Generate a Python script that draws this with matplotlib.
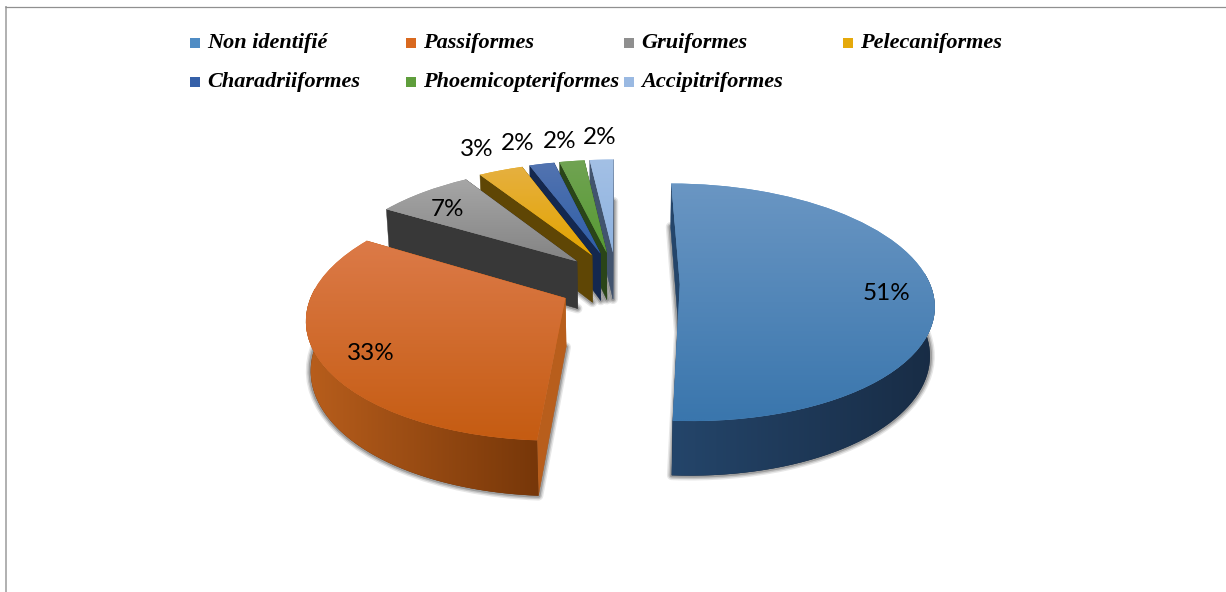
#!/usr/bin/env python3

import numpy as np
import matplotlib
matplotlib.use("Agg")
import matplotlib.pyplot as plt
from matplotlib.patches import Polygon, Rectangle, Wedge
from matplotlib.transforms import Transform

names = ["Non identifié", "Passiformes", "Gruiformes", "Pelecaniformes",
         "Charadriiformes", "Phoemicopteriformes", "Accipitriformes"]
values = [51, 32.6, 7.4, 3.4, 1.9, 1.9, 1.8]
labels = ["51%", "33%", "7%", "3%", "2%", "2%", "2%"]

colors = ["#4f8cc4", "#d9691f", "#8f8f8f", "#e5a90b", "#3560a8", "#5f9e3c", "#9ab9e2"]
top_light = ["#6a96c3", "#dc7a48", "#a6a6a6", "#e6b040", "#5273b0", "#70a352", "#a3c0e5"]
top_dark = ["#3a76ad", "#c55c12", "#848484", "#e3a400", "#2f5fa8", "#579a33", "#8fb3e0"]
side_left = ["#24456a", "#b85e1c", "#383838", "#5f4605", "#14284f", "#2a4518", "#42546e"]
side_right = ["#182c45", "#773709", "#383838", "#5f4605", "#14284f", "#2a4518", "#42546e"]

label_xy = [(887, 293), (371, 353), (448, 209), (477, 149), (518, 143), (560, 141), (600, 138)]
legend_xy = [(191, 43), (407, 43), (625, 43), (844, 43), (191, 82), (407, 82), (625, 82)]


class Tilt(Transform):
    # pie plane -> pixels, with a bit of perspective; z=1 is the bottom face
    input_dims = 2
    output_dims = 2

    def __init__(self, z=0):
        super().__init__()
        self.z = z

    def transform_non_affine(self, xy):
        xy = np.asarray(xy, dtype=float)
        u, v = xy[:, 0], xy[:, 1]
        w = 1 + 0.156 * v + 0.015 * self.z
        return np.column_stack((616 + 255 * u / w, 283 - (118 * v - 49 * self.z) / w))


def rgb(c):
    return np.array(matplotlib.colors.to_rgb(c))


def gradient(c0, c1, horizontal=False):
    grad = np.linspace(0, 1, 64)
    grad = grad[None, :, None] if horizontal else grad[:, None, None]
    return rgb(c0)[None, None, :] * (1 - grad) + rgb(c1)[None, None, :] * grad


def fill_gradient(ax, pts, img, clip, z):
    im = ax.imshow(img, extent=(pts[:, 0].min(), pts[:, 0].max(), pts[:, 1].max(), pts[:, 1].min()),
                   aspect="auto", origin="upper", zorder=z, interpolation="bilinear")
    im.set_clip_path(clip)


fig = plt.figure(figsize=(12.26, 5.92), dpi=100, facecolor="white")
ax = fig.add_axes([0, 0, 1, 1])

wedges, _ = ax.pie(values, colors=colors, startangle=90, counterclock=False,
                   explode=[0.25, 0.22, 0.22, 0.22, 0.22, 0.22, 0.22])
ax.set_aspect("auto")
ax.set_xlim(0, 1226)
ax.set_ylim(592, 0)
ax.set_autoscale_on(False)
ax.axis("off")

top = Tilt(0)
bottom = Tilt(1)
r = 0.98

for i in range(len(values) - 1, -1, -1):
    w = wedges[i]
    cx, cy = w.center
    cy = cy * 1.23
    w.set_center((cx, cy))
    w.set_radius(r)
    w.set_linewidth(0)
    w.set_transform(top + ax.transData)
    base = (7 - i) * 10
    w.set_zorder(base + 5)

    # soft shadow round the bottom face
    for lw, a in [(7, 0.14), (5, 0.22), (3, 0.35)]:
        s = Wedge((cx, cy), r, w.theta1, w.theta2, facecolor="#555555", edgecolor="#555555",
                  linewidth=lw, alpha=a, joinstyle="round", transform=bottom + ax.transData, zorder=base)
        ax.add_patch(s)

    th = np.radians(np.linspace(w.theta1, w.theta2, 90))
    rim = np.column_stack((cx + r * np.cos(th), cy + r * np.sin(th)))
    rim_top = top.transform(rim)
    rim_bot = bottom.transform(rim)
    apex_top = top.transform(np.array([[cx, cy]]))[0]
    apex_bot = bottom.transform(np.array([[cx, cy]]))[0]

    # flat ends of the slice
    for k in (0, -1):
        ax.add_patch(Polygon([apex_top, rim_top[k], rim_bot[k], apex_bot], closed=True,
                             facecolor=side_left[i], edgecolor=side_left[i], linewidth=0.3,
                             zorder=base + 1))

    # curved side, darker to the right
    front = np.sin(th) < 0.1
    if front.any():
        band = np.vstack((rim_top[front], rim_bot[front][::-1]))
        poly = Polygon(band, closed=True, facecolor=side_right[i], edgecolor="none", zorder=base + 2)
        ax.add_patch(poly)
        fill_gradient(ax, band, gradient(side_left[i], side_right[i], horizontal=True), poly, base + 3)

    # top face with vertical gradient
    pts = np.vstack((rim_top, apex_top))
    fill_gradient(ax, pts, gradient(top_light[i], top_dark[i]), w, base + 6)

for lab, (x, y) in zip(labels, label_xy):
    ax.text(x, y, lab, family="Lato", fontsize=17.5, color="black", ha="center", va="center", zorder=200)

for name, c, (x, y) in zip(names, colors, legend_xy):
    ax.add_patch(Rectangle((x - 1, y - 5), 10, 10, facecolor=c, edgecolor="none", zorder=200))
    ax.text(x + 16, y, name, family="Liberation Serif", style="italic", weight="bold",
            fontsize=16, color="black", ha="left", va="center", zorder=200)

# chart frame, only left and top are inside the crop
ax.plot([6, 6], [6, 592], color="#b0b0b0", linewidth=1.4, zorder=1, solid_capstyle="butt")
ax.plot([5, 1226], [6.5, 6.5], color="#909090", linewidth=0.9, zorder=1, solid_capstyle="butt")

fig.savefig("out.png", dpi=100)
